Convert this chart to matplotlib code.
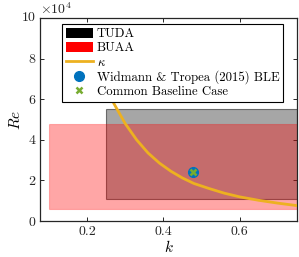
import matplotlib
matplotlib.use("Agg")
import matplotlib.pyplot as plt
from matplotlib.patches import Rectangle, Patch
from matplotlib.lines import Line2D

plt.rcParams['font.family'] = ['cmr10', 'DejaVu Serif']
plt.rcParams['mathtext.fontset'] = 'cm'
plt.rcParams['axes.formatter.use_mathtext'] = True

# Data
tuda_k = [0.25, 0.80]
tuda_re = [1.1e4, 5.5e4]
buaa_k = [0.10, 0.80]
buaa_re = [0.6e4, 4.8e4]
kappa_k = [0.22, 0.25, 0.27, 0.30, 0.33, 0.36, 0.39, 0.42, 0.45, 0.48,
           0.52, 0.56, 0.60, 0.65, 0.70, 0.75, 0.77]
kappa_re = [8.9e4, 6.9e4, 5.8e4, 4.8e4, 4.0e4, 3.35e4, 2.85e4, 2.45e4, 2.12e4,
            1.85e4, 1.6e4, 1.37e4, 1.19e4, 1.02e4, 0.88e4, 0.76e4, 0.72e4]
widmann_k = [0.478]
widmann_re = [2.39e4]
common_k = [0.478]
common_re = [2.39e4]
labels = ['TUDA', 'BUAA', r'$\kappa$', 'Widmann & Tropea (2015) BLE', 'Common Baseline Case']
xticks = [0.2, 0.4, 0.6]
xtick_labels = ['0.2', '0.4', '0.6']
yticks = [0, 2e4, 4e4, 6e4, 8e4, 10e4]
ytick_labels = ['0', '2', '4', '6', '8', '10']
y_multiplier = r'$\times10^4$'

fig = plt.figure(figsize=(2.99, 2.57), dpi=100)
ax = fig.add_axes([0.134, 0.140, 0.859, 0.790])

ax.add_patch(Rectangle((tuda_k[0], tuda_re[0]), tuda_k[1] - tuda_k[0], tuda_re[1] - tuda_re[0],
                       facecolor=(0, 0, 0, 0.35), edgecolor=(0, 0, 0, 0.5), lw=0.8, zorder=1))
ax.add_patch(Rectangle((buaa_k[0], buaa_re[0]), buaa_k[1] - buaa_k[0], buaa_re[1] - buaa_re[0],
                       facecolor=(1, 0, 0, 0.35), edgecolor=(1, 0, 0, 0.25), lw=0.8, zorder=2))
orange = (0.929, 0.694, 0.125)
blue = (0.0, 0.447, 0.741)
green = (0.466, 0.674, 0.188)
dark = (0.15, 0.15, 0.15)
ax.plot(kappa_k, kappa_re, color=orange, lw=2, zorder=3)
ax.plot(widmann_k, widmann_re, 'o', color=blue, ms=7, zorder=4)
ax.plot(common_k, common_re, 'x', color=green, ms=5, mew=1.8, zorder=5)

ax.set_xlim(0.077, 0.75)
ax.set_ylim(0, 1e5)
ax.set_xticks(xticks, labels=xtick_labels)
ax.set_yticks(yticks, labels=ytick_labels[:-1] + [''])
# top tick label drawn explicitly so it is not lost at the axes edge
ax.annotate(ytick_labels[-1], xy=(0, yticks[-1]), xycoords=('axes fraction', 'data'),
            xytext=(-3.5, 0), textcoords='offset points', ha='right', va='center',
            fontsize=10, color=dark, annotation_clip=False, zorder=10)
ax.text(0.0, 1.02, y_multiplier, transform=ax.transAxes, fontsize=10,
        ha='left', va='baseline', color=dark)
ax.tick_params(direction='in', top=True, right=True, labelsize=10, length=3, width=0.7,
               colors=dark)
for sp in ax.spines.values():
    sp.set_linewidth(0.9)
    sp.set_color(dark)
ax.set_xlabel(r'$k$', fontsize=11, labelpad=1)
ax.set_ylabel(r'$Re$', fontsize=11, labelpad=4)

handles = [Patch(facecolor='black', edgecolor='none'),
           Patch(facecolor='red', edgecolor='none'),
           Line2D([], [], color=orange, lw=2),
           Line2D([], [], marker='o', color=blue, ls='none', ms=7),
           Line2D([], [], marker='x', color=green, ls='none', ms=5, mew=1.8)]
leg = ax.legend(handles, labels, loc='upper left', bbox_to_anchor=(0.086, 0.972),
                fontsize=9.2, handlelength=2.1, handleheight=0.9, labelspacing=0.12,
                handletextpad=0.3, borderpad=0.3, borderaxespad=0, fancybox=False,
                framealpha=1, edgecolor='black')
leg.get_frame().set_linewidth(0.8)

fig.savefig('out.png', dpi=100)
